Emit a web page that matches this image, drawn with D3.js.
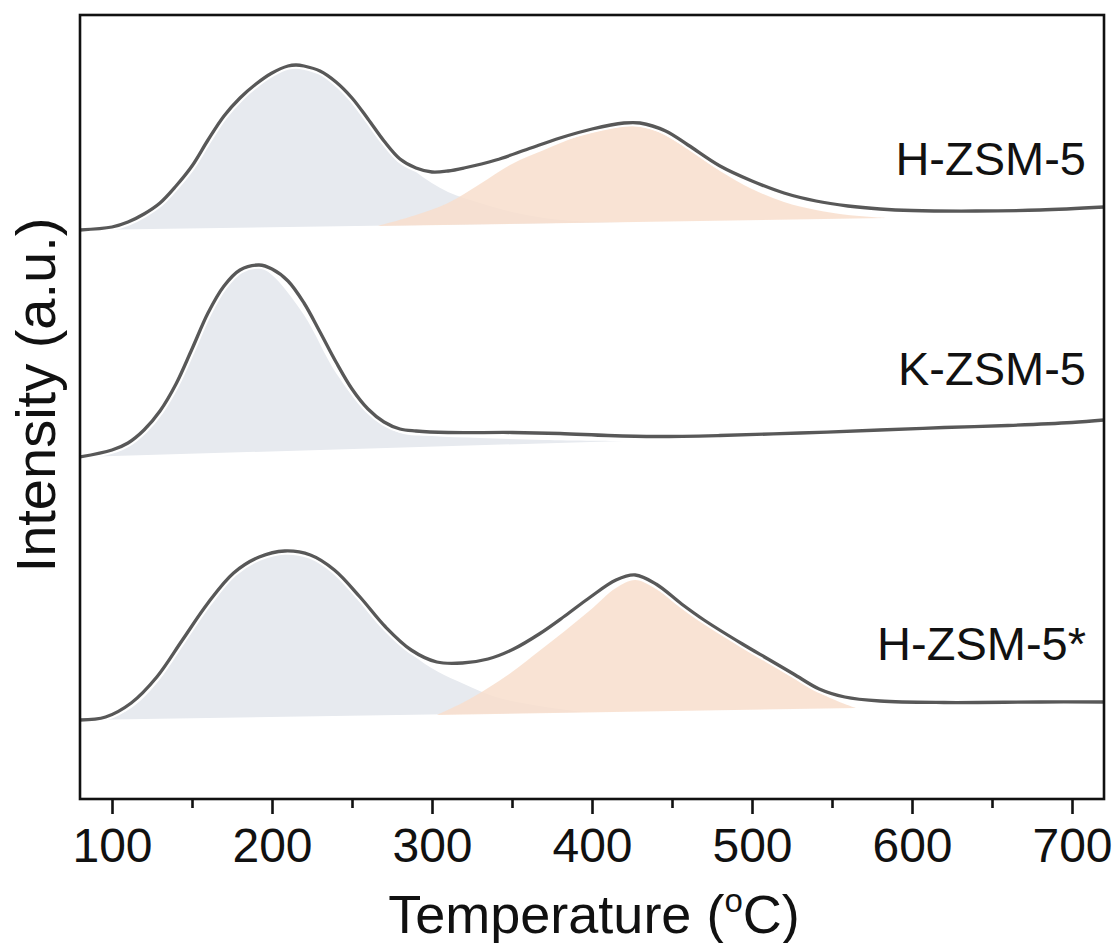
<!DOCTYPE html>
<html><head><meta charset="utf-8">
<script src="https://cdn.jsdelivr.net/npm/d3@7"></script>
<style>
body{margin:0;background:#fff}
svg{display:block}
text{font-family:"Liberation Sans",Arial,Helvetica,sans-serif;fill:#111}
</style>
</head><body>
<svg id="chart" width="1116" height="943"></svg>
<script>
// ---------- data (Intensity in a.u., relative to each trace's own baseline) ----------
const seriesNames = ["H-ZSM-5", "K-ZSM-5", "H-ZSM-5*"];
const offsets = [56.9, 34.2, 7.9];

// measured traces
const hT = [80,100,110,120,130,140,150,160,170,180,190,200,210,215,220,230,240,250,260,270,280,290,300,310,320,340,360,380,400,420,430,446,460,480,500,520,540,560,580,600,640,680,720];
const hI = [0,0.3,0.8,1.6,2.7,4.4,6.4,9.0,11.4,13.2,14.6,15.7,16.4,16.5,16.4,15.9,14.8,13.2,11.1,8.9,7.1,6.2,5.8,5.9,6.2,7.0,8.1,9.2,10.1,10.7,10.7,9.9,8.5,6.4,4.9,3.7,2.9,2.4,2.1,1.95,1.9,2.0,2.3];

const kT = [80,100,110,120,130,140,150,160,170,180,192,200,210,220,230,240,250,260,270,280,290,310,350,380,410,440,480,530,580,620,660,700,720];
const kI = [0,0.7,1.4,2.7,4.6,7.3,10.8,14.4,17.1,18.7,19.2,18.8,17.6,15.4,12.5,9.5,6.8,4.8,3.5,2.8,2.6,2.45,2.45,2.35,2.15,2.05,2.15,2.4,2.7,2.95,3.15,3.45,3.7];

const sT = [80,96,112,128,144,160,176,192,208,224,239,255,271,287,303,319,335,351,367,383,399,415,427,440,456,470,494,510,526,542,558,580,620,680,720];
const sI = [0,0.3,1.7,4.3,8.0,11.7,14.7,16.3,16.9,16.5,15.0,12.3,9.3,7.0,5.8,5.7,6.1,7.1,8.6,10.4,12.3,14.0,14.5,13.6,11.6,10.0,7.6,6.1,4.6,3.1,2.3,1.9,1.75,1.8,1.8];

// fitted components (low-temperature = grey, high-temperature = orange)
const hLowT  = [80,100,120,140,160,180,200,215,230,250,270,290,310,330,350,370,390,420];
const hLowI  = [0,0.2,1.4,4.1,8.7,13.0,15.5,16.3,15.7,13.0,8.7,5.8,3.8,2.7,1.8,1.2,0.9,0.8];
const hHighT = [266,290,310,330,350,370,390,410,425,440,460,480,500,520,540,560,584];
const hHighI = [0.4,1.5,2.7,4.6,6.6,8.0,9.3,10.1,10.4,9.9,8.1,5.9,4.1,2.8,2.0,1.5,1.2];

const kLowT  = [80,100,120,140,160,180,192,200,220,240,260,280,300,330,370,420];
const kLowI  = [0,0.4,2.3,7.0,14.1,18.4,18.9,18.2,14.2,8.4,4.4,2.4,2.1,1.9,1.7,1.6];

const sLowT  = [80,96,112,128,144,160,176,192,208,224,240,256,272,288,304,320,340,360,380,395];
const sLowI  = [0,0.1,1.2,3.7,7.5,11.3,14.3,16.0,16.6,16.2,14.5,11.8,9.0,6.5,4.8,3.6,2.3,1.6,1.1,0.8];
const sHighT = [303,320,335,350,367,383,399,415,427,440,462,494,526,545,558,565];
const sHighI = [0.5,1.8,3.2,4.8,6.9,8.9,11.0,13.2,14.0,13.1,10.5,7.3,4.2,2.5,1.6,1.2];

const xTickValues  = [100,200,300,400,500,600,700];
const xMinorValues = [150,250,350,450,550,650];
const xTitle = "Temperature (";
const yTitle = "Intensity (a.u.)";

// ---------- layout ----------
const L = 80, R = 1104, T = 15, B = 799;
const svg = d3.select("#chart");

const x = d3.scaleLinear().domain([80, 720]).range([L, R]);
const y = d3.scaleLinear().domain([0, 78.4]).range([B, T]);

const zip = (ts, is, off) => ts.map((t, i) => [t, is[i] + off]);
const line = d3.line().x(d => x(d[0])).y(d => y(d[1])).curve(d3.curveCatmullRom.alpha(0.5));

svg.append("defs").append("clipPath").attr("id", "clip")
  .append("rect").attr("x", L).attr("y", T).attr("width", R - L).attr("height", B - T);
const plot = svg.append("g").attr("clip-path", "url(#clip)");

const GREY = "rgb(231,234,239)";
const ORANGE = "rgb(248,222,204)";

const fills = [
  {t: hLowT, i: hLowI, s: 0, c: GREY, o: 1},
  {t: kLowT, i: kLowI, s: 1, c: GREY, o: 1},
  {t: sLowT, i: sLowI, s: 2, c: GREY, o: 1},
  {t: hHighT, i: hHighI, s: 0, c: ORANGE, o: 0.85},
  {t: sHighT, i: sHighI, s: 2, c: ORANGE, o: 0.85}
];
plot.selectAll("path.fill").data(fills).join("path")
  .attr("class", "fill")
  .attr("d", f => line(zip(f.t, f.i, offsets[f.s])) + "Z")
  .attr("fill", f => f.c)
  .attr("fill-opacity", f => f.o)
  .attr("stroke", "none");

const traces = [zip(hT, hI, offsets[0]), zip(kT, kI, offsets[1]), zip(sT, sI, offsets[2])];
plot.selectAll("path.halo").data(traces).join("path")
  .attr("class", "halo").attr("d", line)
  .attr("fill", "none").attr("stroke", "#fff").attr("stroke-width", 7.5)
  .attr("stroke-linejoin", "round");
plot.selectAll("path.trace").data(traces).join("path")
  .attr("class", "trace").attr("d", line)
  .attr("fill", "none").attr("stroke", "#585858").attr("stroke-width", 3.3)
  .attr("stroke-linejoin", "round");

// series labels
const labelY = [175, 385, 660];
svg.selectAll("text.lab").data(seriesNames).join("text")
  .attr("class", "lab")
  .attr("x", 1086).attr("y", (d, i) => labelY[i])
  .attr("text-anchor", "end").attr("font-size", 47)
  .text(d => d);

// frame
svg.append("rect").attr("x", L).attr("y", T).attr("width", R - L).attr("height", B - T)
  .attr("fill", "none").attr("stroke", "#111").attr("stroke-width", 2.6);

// x axis
const ax = d3.axisBottom(x).tickValues(xTickValues).tickSize(15).tickPadding(14).tickFormat(d3.format("d"));
const gx = svg.append("g").attr("transform", `translate(0,${B})`).call(ax);
gx.select(".domain").remove();
gx.selectAll(".tick line").attr("stroke", "#111").attr("stroke-width", 2.6);
gx.selectAll(".tick text").attr("font-size", 48).attr("fill", "#111")
  .attr("font-family", '"Liberation Sans", Arial, sans-serif').attr("dy", "0.71em");

const axm = d3.axisBottom(x).tickValues(xMinorValues).tickSize(9).tickFormat("");
const gm = svg.append("g").attr("transform", `translate(0,${B})`).call(axm);
gm.select(".domain").remove();
gm.selectAll(".tick line").attr("stroke", "#111").attr("stroke-width", 2.6);

// axis titles
const xt = svg.append("text").attr("x", 594).attr("y", 933)
  .attr("text-anchor", "middle").attr("font-size", 54);
xt.append("tspan").text(xTitle);
xt.append("tspan").attr("font-size", 33).attr("dy", -21).text("o");
xt.append("tspan").attr("dy", 21).text("C)");

svg.append("text")
  .attr("transform", `translate(55,395) rotate(-90)`)
  .attr("text-anchor", "middle").attr("font-size", 56)
  .text(yTitle);
</script>
</body></html>
